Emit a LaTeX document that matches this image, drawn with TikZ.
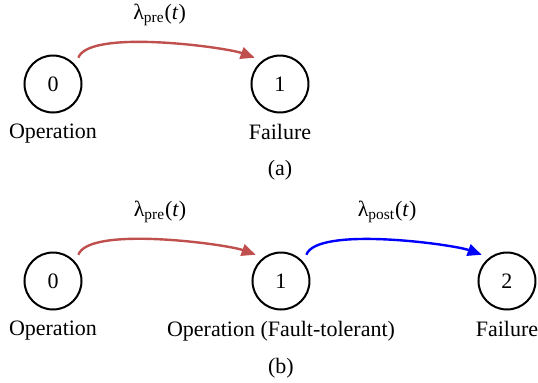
\documentclass[tikz,border=0pt]{standalone}
\usepackage{fontspec}
\setmainfont{Liberation Serif}
\usepackage{xcolor}
\usetikzlibrary{arrows.meta, positioning}

\definecolor{prered}{RGB}{192,80,77}

\begin{document}
\begin{tikzpicture}[
  x=0.5pt, y=-0.5pt,
  font=\fontsize{11}{13}\selectfont,
  state/.style = {circle, draw=black, line width=1pt, minimum size=28.5pt,
                  inner sep=0pt, outer sep=4pt},
  lbl/.style   = {below=-1.5pt, inner sep=3pt},
  rate/.style  = {text=black, above=4.5pt},
  arr/.style   = {-{Triangle[length=7pt,width=6pt]}, line width=1.2pt,
                  out=70, in=160, looseness=0.45}
]
\useasboundingbox (0,0) rectangle (538,382);

% (a) two-state model
\node[state] (a0) at (53,84) {0};
\node[state] (a1) at (280,84) {1};
\node[lbl] (aop) at (a0.south) {Operation};
\node[lbl] (afl) at (a1.south) {Failure};
\node (capa) at (280,170) {(a)};
\draw[arr, prered] (a0.46) to
  node[rate] {λ\textsubscript{pre}(\textit{t})} (a1.134);

% (b) three-state model
\node[state] (b0) at (53,281) {0};
\node[state] (b1) at (281,281) {1};
\node[state] (b2) at (507,281) {2};
\node[lbl] (bop) at (b0.south) {Operation};
\node[lbl] (bft) at (b1.south) {Operation (Fault-tolerant)};
\node[lbl] (bfl) at (b2.south) {Failure};
\node (capb) at (281,368) {(b)};
\draw[arr, prered] (b0.46) to
  node[rate] {λ\textsubscript{pre}(\textit{t})} (b1.134);
\draw[arr, blue] (b1.46) to
  node[rate] {λ\textsubscript{post}(\textit{t})} (b2.134);
\end{tikzpicture}
\end{document}
